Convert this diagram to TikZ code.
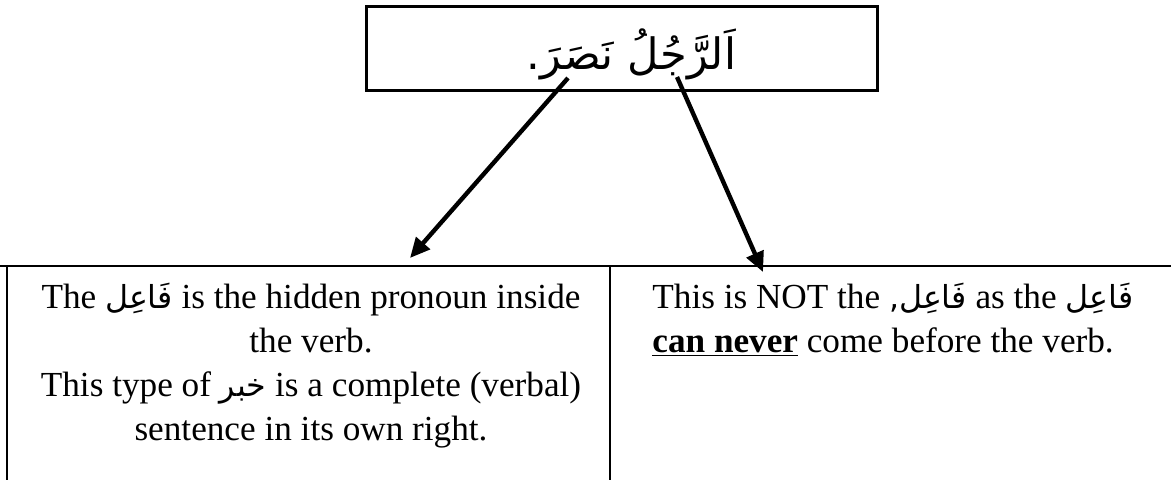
\documentclass[tikz,border=0pt]{standalone}
\usepackage{fontspec}
\setmainfont{Liberation Serif}
\newfontfamily\arabicfont[Script=Arabic,Scale=0.9]{DejaVu Sans}
\TeXXeTstate=1
\usetikzlibrary{arrows.meta}
\newcommand{\arword}[1]{{\arabicfont\beginR #1\endR}}

\begin{document}
\begin{tikzpicture}[x=0.5pt,y=-0.5pt,
    pointer/.style={line width=2.2pt,-{Triangle[length=10pt,width=9pt]}},
    cell/.style={font=\fontsize{17.6}{22}\selectfont,inner sep=0pt}]
\useasboundingbox (0,0) rectangle (1171,480);
% sentence box
\node[draw,line width=1.5pt,minimum width=255.5pt,minimum height=42pt,
      font=\fontsize{24}{28}\selectfont,text depth=0pt] (sentence) at (621.5,49)
      {\hspace{10pt}\arword{اَلرَّجُلُ نَصَرَ.}};
% table lines
\draw[line width=1pt] (0,266) -- (1171,266);
\draw[line width=1pt] (7,266) -- (7,480);
\draw[line width=1pt] (610,266) -- (610,480);
% cells
\node[cell,align=center,anchor=north] (hidden) at (311,283)
      {The \arword{فَاعِل} is the hidden pronoun inside\\
       the verb.\\
       This type of \arword{خبر} is a complete (verbal)\\
       sentence in its own right.};
\node[cell,align=left,anchor=north west] (never) at (652,283)
      {This is NOT the \arword{فَاعِل,} as the \arword{فَاعِل}\\
       \underline{\textbf{can never}} come before the verb.};
% arrows
\coordinate (verbend) at (568,78);
\coordinate (hiddentip) at (410,258);
\coordinate (nounend) at (677,77);
\coordinate (nevertip) at (763,272);
\draw[pointer] (verbend) -- (hiddentip);
\draw[pointer] (nounend) -- (nevertip);
\end{tikzpicture}
\end{document}
